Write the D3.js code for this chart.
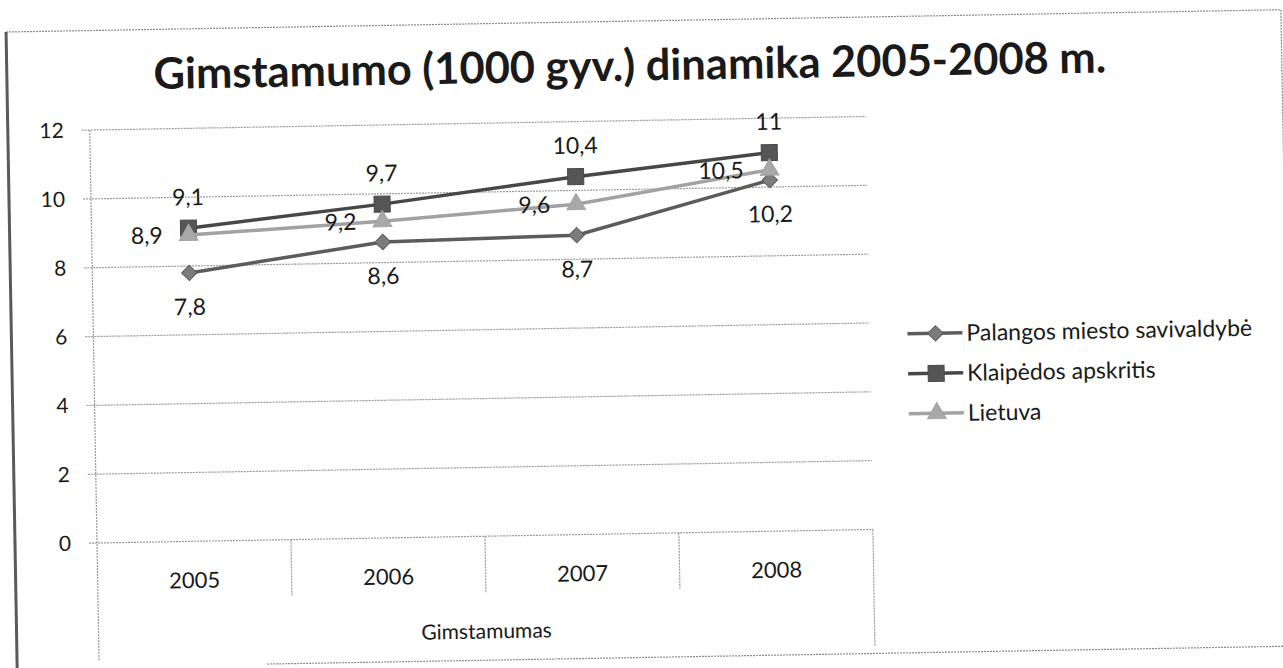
<!DOCTYPE html>
<html>
<head>
<meta charset="utf-8">
<script src="https://cdn.jsdelivr.net/npm/d3@7"></script>
<style>
  body { margin: 0; background: #fff; }
  text { font-family: Lato, "Open Sans", sans-serif; fill: #1a1a1a; }
</style>
</head>
<body>
<div id="chart"></div>
<script>
// chart data
var years = ["2005", "2006", "2007", "2008"];
var palanga = [7.8, 8.6, 8.7, 10.2];
var klaipeda = [9.1, 9.7, 10.4, 11];
var lietuva = [8.9, 9.2, 9.6, 10.5];
var seriesNames = ["Palangos miesto savivaldybė", "Klaipėdos apskritis", "Lietuva"];
var yTicks = [0, 2, 4, 6, 8, 10, 12];
var chartTitle = "Gimstamumo  (1000 gyv.) dinamika 2005-2008 m.";
var axisTitle = "Gimstamumas";

var svgWidth = 1283;
var svgHeight = 668;

// plot box (before the scan tilt is applied)
var plot = { left: 97, right: 873, top: 130, bottom: 543 };

var svg = d3.select("#chart")
  .append("svg")
  .attr("width", svgWidth)
  .attr("height", svgHeight);

// the scan is tilted about one degree, so everything sits in one rotated group
var g = svg.append("g")
  .attr("transform", "rotate(-1, " + plot.left + ", " + plot.bottom + ")");

// outer chart frame
g.append("line")
  .attr("x1", 15).attr("x2", 1290).attr("y1", 30.5).attr("y2", 30.5)
  .attr("stroke", "#8a8a8a").attr("stroke-width", 1.2).attr("stroke-dasharray", "2,1");
g.append("line")
  .attr("x1", 1290).attr("x2", 1290).attr("y1", 30.5).attr("y2", 700)
  .attr("stroke", "#8a8a8a").attr("stroke-width", 1.2).attr("stroke-dasharray", "2,1");
g.append("line")
  .attr("x1", 15).attr("x2", 15).attr("y1", 30.5).attr("y2", 700)
  .attr("stroke", "#5a5a5a").attr("stroke-width", 3);
g.append("line")
  .attr("x1", 265).attr("x2", 1290).attr("y1", 667).attr("y2", 667)
  .attr("stroke", "#8a8a8a").attr("stroke-width", 1.2).attr("stroke-dasharray", "2,1");

// title, fitted to the width it has in the picture
var title = g.append("text")
  .attr("x", 638)
  .attr("y", 90)
  .attr("text-anchor", "middle")
  .style("font-weight", "bold")
  .style("font-size", "44px")
  .text(chartTitle);
var tw = title.node().getComputedTextLength();
title.style("font-size", (44 * 953 / tw) + "px");

// scales
var xScale = d3.scaleBand()
  .domain(years)
  .range([plot.left, plot.right]);

var yScale = d3.scaleLinear()
  .domain([0, 12])
  .range([plot.bottom, plot.top]);

// gridlines with short outside ticks
g.append("g").selectAll("line")
  .data(yTicks)
  .enter()
  .append("line")
  .attr("x1", plot.left - 8)
  .attr("x2", plot.right)
  .attr("y1", d => yScale(d))
  .attr("y2", d => yScale(d))
  .attr("stroke", "#9a9a9a")
  .attr("stroke-width", 1.2)
  .attr("stroke-dasharray", "2,1");

// y axis labels
g.append("g").selectAll("text")
  .data(yTicks)
  .enter()
  .append("text")
  .attr("x", 71)
  .attr("y", d => yScale(d))
  .attr("dy", "0.35em")
  .attr("text-anchor", "end")
  .style("font-size", "21px")
  .text(d => d);

// y axis line, runs down to close the category box
g.append("line")
  .attr("x1", plot.left).attr("x2", plot.left)
  .attr("y1", plot.top).attr("y2", 660)
  .attr("stroke", "#9a9a9a").attr("stroke-width", 1.2).attr("stroke-dasharray", "2,1");
g.append("line")
  .attr("x1", plot.right).attr("x2", plot.right)
  .attr("y1", plot.bottom).attr("y2", 660)
  .attr("stroke", "#9a9a9a").attr("stroke-width", 1.2).attr("stroke-dasharray", "2,1");

// separators between years
g.append("g").selectAll("line")
  .data(years.slice(1))
  .enter()
  .append("line")
  .attr("x1", d => xScale(d))
  .attr("x2", d => xScale(d))
  .attr("y1", plot.bottom)
  .attr("y2", 600)
  .attr("stroke", "#9a9a9a").attr("stroke-width", 1.2).attr("stroke-dasharray", "2,1");

// year labels
g.append("g").selectAll("text")
  .data(years)
  .enter()
  .append("text")
  .attr("x", d => xScale(d) + xScale.bandwidth() / 2)
  .attr("y", 582)
  .attr("dy", "0.35em")
  .attr("text-anchor", "middle")
  .style("font-size", "22px")
  .text(d => d);

g.append("text")
  .attr("x", (plot.left + plot.right) / 2)
  .attr("y", 638)
  .attr("dy", "0.35em")
  .attr("text-anchor", "middle")
  .style("font-size", "21px")
  .text(axisTitle);

// series styles
var series = [
  { name: seriesNames[0], values: palanga, line: "#5c5c5c", fill: "#7c7c7c", shape: "diamond", label: "below" },
  { name: seriesNames[1], values: klaipeda, line: "#474747", fill: "#555555", shape: "square", label: "above" },
  { name: seriesNames[2], values: lietuva, line: "#a2a2a2", fill: "#a8a8a8", shape: "triangle", label: "left" }
];

function markerPath(shape) {
  if (shape == "square") return d3.symbol().type(d3.symbolSquare).size(256)();
  if (shape == "triangle") return d3.symbol().type(d3.symbolTriangle).size(150)();
  return d3.symbol().type(d3.symbolSquare).size(120)();
}
function markerRotate(shape) {
  return shape == "diamond" ? " rotate(45)" : "";
}

var fmt = v => String(v).replace(".", ",");
var cx = (d, i) => xScale(years[i]) + xScale.bandwidth() / 2;

var line = d3.line()
  .x((d, i) => cx(d, i))
  .y(d => yScale(d));

series.forEach(function (s) {
  var sg = g.append("g");

  sg.append("path")
    .datum(s.values)
    .attr("d", line)
    .attr("fill", "none")
    .attr("stroke", s.line)
    .attr("stroke-width", 3.5);

  sg.selectAll("path.marker")
    .data(s.values)
    .enter()
    .append("path")
    .attr("class", "marker")
    .attr("d", markerPath(s.shape))
    .attr("transform", (d, i) => "translate(" + cx(d, i) + "," + yScale(d) + ")" + markerRotate(s.shape))
    .attr("fill", s.fill)
    .attr("stroke", s.line)
    .attr("stroke-width", 1);

  // data labels
  sg.selectAll("text")
    .data(s.values)
    .enter()
    .append("text")
    .attr("x", (d, i) => s.label == "left" ? cx(d, i) - 26 : cx(d, i))
    .attr("y", d => s.label == "above" ? yScale(d) - 31 : s.label == "below" ? yScale(d) + 34 : yScale(d))
    .attr("dy", "0.35em")
    .attr("text-anchor", s.label == "left" ? "end" : "middle")
    .style("font-size", "23px")
    .text(d => fmt(d));
});

// legend
var legend = g.append("g").selectAll("g")
  .data(series)
  .enter()
  .append("g")
  .attr("transform", (d, i) => "translate(0," + (348 + i * 40) + ")");

legend.append("line")
  .attr("x1", 911).attr("x2", 966)
  .attr("stroke", d => d.line)
  .attr("stroke-width", 3.5);

legend.append("path")
  .attr("d", d => markerPath(d.shape))
  .attr("transform", d => "translate(939,0)" + markerRotate(d.shape))
  .attr("fill", d => d.fill)
  .attr("stroke", d => d.line)
  .attr("stroke-width", 1);

legend.append("text")
  .attr("x", 970)
  .attr("dy", "0.35em")
  .style("font-size", "23px")
  .text(d => d.name);
</script>
</body>
</html>
